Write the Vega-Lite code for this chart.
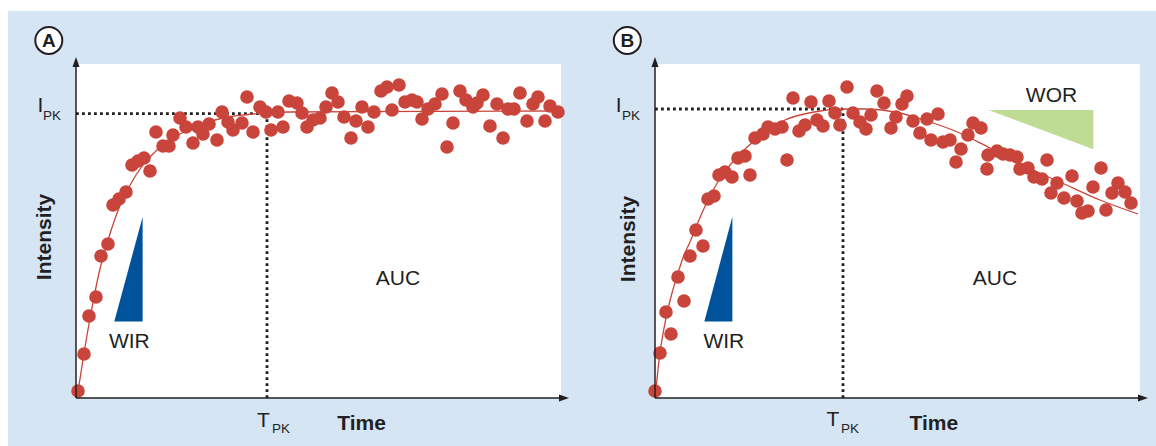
{
  "$schema": "https://vega.github.io/schema/vega-lite/v6.json",
  "padding": 0,
  "background": "#d5e5f4",
  "config": {"view": {"fill": "white", "stroke": null}, "font": "Liberation Sans", "text": {"color": "#231f20"}},
  "spacing": 94,
  "bounds": "flush",
  "datasets": {
    "stripsA": [{"t": -15.2, "v": 96.75, "t2": 216, "v2": 99.5}, {"t": -15.2, "v": -12, "t2": -13.6, "v2": 99.5}],
    "dotsA": [{"t":0.4,"v":1.75},{"t":1.6,"v":11},{"t":2.6,"v":20.5},{"t":4,"v":25.25},{"t":5,"v":35.5},{"t":6.4,"v":38.5},{"t":7.4,"v":48.25},{"t":8.6,"v":49.75},{"t":10,"v":51.5},{"t":11.2,"v":58.25},{"t":12.4,"v":59.25},{"t":13.6,"v":60},{"t":14.8,"v":56.75},{"t":16,"v":66.5},{"t":17.4,"v":63},{"t":18.6,"v":63},{"t":19.4,"v":65.75},{"t":20.8,"v":70},{"t":22,"v":67.75},{"t":23.4,"v":63.75},{"t":24.4,"v":67.75},{"t":25.4,"v":66},{"t":26.6,"v":68.5},{"t":28.2,"v":64.5},{"t":29.2,"v":71.5},{"t":30.4,"v":69},{"t":31.4,"v":67},{"t":33.2,"v":68.75},{"t":34.2,"v":75.25},{"t":35.4,"v":66.5},{"t":36.8,"v":72.75},{"t":38,"v":71.5},{"t":39,"v":67},{"t":40.4,"v":71.5},{"t":41.4,"v":67.75},{"t":42.6,"v":74.25},{"t":44.2,"v":73.75},{"t":45.2,"v":71.25},{"t":46.2,"v":67.75},{"t":47.4,"v":69.5},{"t":48.8,"v":70},{"t":50,"v":72.75},{"t":51.2,"v":76.25},{"t":52.4,"v":74},{"t":53.6,"v":70.25},{"t":55,"v":65},{"t":56,"v":69.25},{"t":57.2,"v":72.75},{"t":58.4,"v":67.75},{"t":59.6,"v":71.5},{"t":61,"v":76.75},{"t":62.2,"v":77.75},{"t":63.2,"v":72},{"t":64.6,"v":78.25},{"t":65.8,"v":74},{"t":67.2,"v":74.5},{"t":68.2,"v":74},{"t":69.2,"v":69.75},{"t":70.4,"v":72.25},{"t":71.8,"v":73.5},{"t":73.2,"v":76},{"t":74.2,"v":62.75},{"t":75.4,"v":68.75},{"t":76.8,"v":76.75},{"t":78,"v":74.5},{"t":79.4,"v":72.75},{"t":80.2,"v":73.75},{"t":81.4,"v":75.75},{"t":82.8,"v":68},{"t":84.2,"v":73.5},{"t":85.4,"v":65},{"t":86.4,"v":72.25},{"t":87.6,"v":72.25},{"t":88.8,"v":76.25},{"t":90.2,"v":69.25},{"t":91.4,"v":73.5},{"t":92.4,"v":75.25},{"t":93.8,"v":69.25},{"t":94.8,"v":73},{"t":96.4,"v":71.5}],
    "dotsB": [{"t":0,"v":1.75},{"t":1,"v":11.25},{"t":2.2,"v":21.5},{"t":3.2,"v":16},{"t":4.6,"v":30.25},{"t":5.8,"v":24.25},{"t":7,"v":35.5},{"t":8.2,"v":42},{"t":9.6,"v":38},{"t":10.6,"v":49.75},{"t":11.8,"v":50.5},{"t":12.8,"v":55.75},{"t":14,"v":56.5},{"t":15.4,"v":55.25},{"t":16.6,"v":60},{"t":18,"v":60.5},{"t":19,"v":55.75},{"t":20,"v":65},{"t":21.6,"v":66},{"t":22.6,"v":67.75},{"t":24,"v":67.25},{"t":25.4,"v":67.75},{"t":26.4,"v":59.5},{"t":27.6,"v":75},{"t":28.8,"v":66.75},{"t":30,"v":68.25},{"t":31.2,"v":74},{"t":32.4,"v":69.5},{"t":33.6,"v":68},{"t":34.8,"v":74.25},{"t":36,"v":71.25},{"t":37,"v":68.25},{"t":38.4,"v":77.75},{"t":39.6,"v":71.25},{"t":41,"v":69},{"t":42.2,"v":67.25},{"t":43.2,"v":70.75},{"t":44.4,"v":76.75},{"t":45.8,"v":73.75},{"t":47.2,"v":67.5},{"t":48.2,"v":70.25},{"t":49.4,"v":73.5},{"t":50.4,"v":75.5},{"t":51.6,"v":69.25},{"t":53,"v":66.25},{"t":54.4,"v":69.75},{"t":55.2,"v":64.5},{"t":56.6,"v":71},{"t":57.6,"v":64},{"t":59,"v":64.5},{"t":60.2,"v":59},{"t":61.2,"v":62.25},{"t":62.6,"v":65.75},{"t":63.6,"v":68.75},{"t":65.2,"v":67.5},{"t":66.4,"v":57.25},{"t":66.6,"v":60.75},{"t":68.4,"v":61.75},{"t":69.6,"v":61},{"t":71,"v":60.75},{"t":72.4,"v":60.25},{"t":73,"v":57.25},{"t":74.6,"v":57.5},{"t":75.8,"v":55.25},{"t":77.4,"v":54.75},{"t":78.4,"v":59.5},{"t":79.2,"v":51.25},{"t":80.4,"v":53.75},{"t":81.8,"v":50},{"t":83.4,"v":55.5},{"t":84.4,"v":49.25},{"t":85.4,"v":46.25},{"t":86.6,"v":46.75},{"t":87.6,"v":52.75},{"t":89.2,"v":57.5},{"t":90.2,"v":47},{"t":91.4,"v":51.25},{"t":92.6,"v":53.75},{"t":94,"v":51.5},{"t":95.2,"v":48.75}],
    "curveA": [{"t":0,"v":0},{"t":0.4,"v":2},{"t":1.6,"v":11.25},{"t":3,"v":21.25},{"t":4.6,"v":31.25},{"t":6.6,"v":40.25},{"t":8.6,"v":47.5},{"t":11.4,"v":54.5},{"t":12.8,"v":57.25},{"t":16.2,"v":62},{"t":22.8,"v":67.25},{"t":29.4,"v":70},{"t":38.2,"v":71.25},{"t":42.8,"v":71.5},{"t":56.8,"v":71.6},{"t":96.4,"v":71.75}],
    "curveB": [{"t":0,"v":0},{"t":1,"v":11.25},{"t":2.2,"v":20},{"t":3.4,"v":26.25},{"t":4.6,"v":31.25},{"t":5.8,"v":35.75},{"t":7,"v":39},{"t":8.2,"v":42.75},{"t":9.4,"v":46.25},{"t":10.6,"v":49.5},{"t":12.8,"v":54.5},{"t":16.6,"v":60.5},{"t":20,"v":64.5},{"t":22.4,"v":67},{"t":26,"v":69.5},{"t":29,"v":70.75},{"t":33,"v":71.75},{"t":37,"v":72.25},{"t":42,"v":72.25},{"t":48,"v":71.5},{"t":55,"v":69},{"t":60,"v":66.75},{"t":67,"v":62.5},{"t":75.6,"v":57},{"t":81,"v":54},{"t":89,"v":49.5},{"t":96.6,"v":46}],
    "wirA": [{"t":7.66,"v":19.1,"v2":19.1},{"t":13.33,"v":45.3,"v2":19.1}],
    "wirB": [{"t":9.87,"v":19.1,"v2":19.1},{"t":15.47,"v":45.3,"v2":19.1}],
    "worB": [{"t":66.67,"v":72,"v2":72},{"t":87.67,"v":72,"v2":62.2}],
    "guidesA": [{"t":0,"v":71.1,"t2":38.2,"v2":71.1},{"t":38.2,"v":0,"t2":38.2,"v2":71.1}],
    "guidesB": [{"t":0,"v":72.25,"t2":37.6,"v2":72.25},{"t":37.6,"v":0,"t2":37.6,"v2":72.25}],
    "axes": [{"t":0,"v":0,"t2":97.6,"v2":0},{"t":0,"v":0,"t2":0,"v2":84}],
    "arrows": [{"t":97.6,"v":0,"dir":"x"},{"t":0,"v":84,"dir":"y"}],
    "labelsA": [{"t":-7.14,"v":71.5,"text":"I","kind":"main"},{"t":-6.6,"v":69.5,"text":"PK","kind":"sub"},{"t":37.5,"v":-7.25,"text":"T","kind":"main"},{"t":39.2,"v":-8.75,"text":"PK","kind":"sub"},{"t":57.1,"v":-8,"text":"Time","kind":"title"},{"t":-6.2,"v":40.25,"text":"Intensity","kind":"ytitle"},{"t":64.4,"v":28.25,"text":"AUC","kind":"main"},{"t":10.67,"v":12.4,"text":"WIR","kind":"main"},{"t":-5.44,"v":89.4,"text":"A","kind":"panel"}],
    "labelsB": [{"t":-7.26,"v":71.6,"text":"I","kind":"main"},{"t":-6.6,"v":69.5,"text":"PK","kind":"sub"},{"t":35.6,"v":-7,"text":"T","kind":"main"},{"t":37.2,"v":-8.7,"text":"PK","kind":"sub"},{"t":55.76,"v":-8,"text":"Time","kind":"title"},{"t":-5.2,"v":39.75,"text":"Intensity","kind":"ytitle"},{"t":68,"v":28.25,"text":"AUC","kind":"main"},{"t":13.77,"v":12.4,"text":"WIR","kind":"main"},{"t":79.3,"v":74.1,"text":"WOR","kind":"main"},{"t":-5.54,"v":89.4,"text":"B","kind":"panel"}]
  },
  "hconcat": [
    {
      "width": 485, "height": 334,
      "encoding": {
        "x": {"field": "t", "type": "quantitative", "scale": {"domain": [0, 97], "nice": false, "zero": false}, "axis": null},
        "y": {"field": "v", "type": "quantitative", "scale": {"domain": [0, 83.5], "nice": false, "zero": false}, "axis": null}
      },
      "layer": [
        {"data": {"name": "stripsA"}, "mark": {"type": "rect", "color": "white"}, "encoding": {"x2": {"field": "t2"}, "y2": {"field": "v2"}}},
        {"data": {"name": "wirA"}, "mark": {"type": "area", "color": "#00539b", "opacity": 1}, "encoding": {"y2": {"field": "v2"}}},
        {"data": {"name": "guidesA"}, "mark": {"type": "rule", "color": "#231f20", "strokeWidth": 2.8, "strokeDash": [2.8, 3.2]}, "encoding": {"x2": {"field": "t2"}, "y2": {"field": "v2"}}},
        {"data": {"name": "curveA"}, "mark": {"type": "line", "color": "#c9453b", "strokeWidth": 1.3, "interpolate": "monotone"}, "encoding": {}},
        {"data": {"name": "dotsA"}, "mark": {"type": "circle", "color": "#c9453b", "opacity": 1, "size": 185}},
        {"data": {"name": "axes"}, "mark": {"type": "rule", "color": "#231f20", "strokeWidth": 1.5}, "encoding": {"x2": {"field": "t2"}, "y2": {"field": "v2"}}},
        {"data": {"name": "arrows"}, "mark": {"type": "point", "filled": true, "color": "#231f20", "opacity": 1, "size": 100}, "encoding": {"shape": {"field": "dir", "type": "nominal", "scale": {"domain": ["x", "y"], "range": ["M1,0L-1,-0.7L-1,0.7Z", "M0,-1L-0.7,1L0.7,1Z"]}, "legend": null}}},
        {"data": {"name": "labelsA"}, "transform": [{"filter": "datum.kind === 'panel'"}], "mark": {"type": "point", "shape": "circle", "filled": true, "fill": "white", "stroke": "#231f20", "strokeWidth": 2, "size": 729, "opacity": 1}},
        {"data": {"name": "labelsA"}, "transform": [{"filter": "datum.kind === 'panel'"}], "mark": {"type": "text", "fontSize": 19, "fontWeight": "bold", "align": "center", "baseline": "middle", "dy": 1}, "encoding": {"text": {"field": "text"}}},
        {"data": {"name": "labelsA"}, "transform": [{"filter": "datum.kind === 'main'"}], "mark": {"type": "text", "fontSize": 21, "align": "center", "baseline": "alphabetic"}, "encoding": {"text": {"field": "text"}}},
        {"data": {"name": "labelsA"}, "transform": [{"filter": "datum.kind === 'sub'"}], "mark": {"type": "text", "fontSize": 13.5, "align": "left", "baseline": "alphabetic"}, "encoding": {"text": {"field": "text"}}},
        {"data": {"name": "labelsA"}, "transform": [{"filter": "datum.kind === 'title'"}], "mark": {"type": "text", "fontSize": 21, "fontWeight": "bold", "align": "center", "baseline": "alphabetic"}, "encoding": {"text": {"field": "text"}}},
        {"data": {"name": "labelsA"}, "transform": [{"filter": "datum.kind === 'ytitle'"}], "mark": {"type": "text", "fontSize": 21, "fontWeight": "bold", "align": "center", "baseline": "middle", "angle": 270}, "encoding": {"text": {"field": "text"}}}
      ]
    },
    {
      "width": 485, "height": 334,
      "encoding": {
        "x": {"field": "t", "type": "quantitative", "scale": {"domain": [0, 97], "nice": false, "zero": false}, "axis": null},
        "y": {"field": "v", "type": "quantitative", "scale": {"domain": [0, 83.5], "nice": false, "zero": false}, "axis": null}
      },
      "layer": [
        {"data": {"name": "wirB"}, "mark": {"type": "area", "color": "#00539b", "opacity": 1}, "encoding": {"y2": {"field": "v2"}}},
        {"data": {"name": "worB"}, "mark": {"type": "area", "color": "#bfdc95", "opacity": 1}, "encoding": {"y2": {"field": "v2"}}},
        {"data": {"name": "guidesB"}, "mark": {"type": "rule", "color": "#231f20", "strokeWidth": 2.8, "strokeDash": [2.8, 3.2]}, "encoding": {"x2": {"field": "t2"}, "y2": {"field": "v2"}}},
        {"data": {"name": "curveB"}, "mark": {"type": "line", "color": "#c9453b", "strokeWidth": 1.3, "interpolate": "monotone"}, "encoding": {}},
        {"data": {"name": "dotsB"}, "mark": {"type": "circle", "color": "#c9453b", "opacity": 1, "size": 185}},
        {"data": {"name": "axes"}, "mark": {"type": "rule", "color": "#231f20", "strokeWidth": 1.5}, "encoding": {"x2": {"field": "t2"}, "y2": {"field": "v2"}}},
        {"data": {"name": "arrows"}, "mark": {"type": "point", "filled": true, "color": "#231f20", "opacity": 1, "size": 100}, "encoding": {"shape": {"field": "dir", "type": "nominal", "scale": {"domain": ["x", "y"], "range": ["M1,0L-1,-0.7L-1,0.7Z", "M0,-1L-0.7,1L0.7,1Z"]}, "legend": null}}},
        {"data": {"name": "labelsB"}, "transform": [{"filter": "datum.kind === 'panel'"}], "mark": {"type": "point", "shape": "circle", "filled": true, "fill": "white", "stroke": "#231f20", "strokeWidth": 2, "size": 729, "opacity": 1}},
        {"data": {"name": "labelsB"}, "transform": [{"filter": "datum.kind === 'panel'"}], "mark": {"type": "text", "fontSize": 19, "fontWeight": "bold", "align": "center", "baseline": "middle", "dy": 1}, "encoding": {"text": {"field": "text"}}},
        {"data": {"name": "labelsB"}, "transform": [{"filter": "datum.kind === 'main'"}], "mark": {"type": "text", "fontSize": 21, "align": "center", "baseline": "alphabetic"}, "encoding": {"text": {"field": "text"}}},
        {"data": {"name": "labelsB"}, "transform": [{"filter": "datum.kind === 'sub'"}], "mark": {"type": "text", "fontSize": 13.5, "align": "left", "baseline": "alphabetic"}, "encoding": {"text": {"field": "text"}}},
        {"data": {"name": "labelsB"}, "transform": [{"filter": "datum.kind === 'title'"}], "mark": {"type": "text", "fontSize": 21, "fontWeight": "bold", "align": "center", "baseline": "alphabetic"}, "encoding": {"text": {"field": "text"}}},
        {"data": {"name": "labelsB"}, "transform": [{"filter": "datum.kind === 'ytitle'"}], "mark": {"type": "text", "fontSize": 21, "fontWeight": "bold", "align": "center", "baseline": "middle", "angle": 270}, "encoding": {"text": {"field": "text"}}}
      ]
    }
  ]
}
